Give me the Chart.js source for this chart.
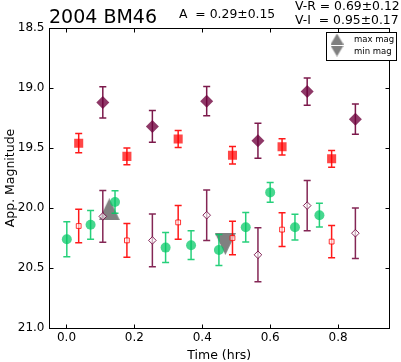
<!DOCTYPE html>
<html>
<head>
<meta charset="utf-8">
<script src="https://cdn.jsdelivr.net/npm/chart.js@4/dist/chart.umd.min.js"></script>
<style>
  html, body { margin: 0; padding: 0; background: #fff; }
  canvas { display: block; }
</style>
</head>
<body>
<canvas id="lc" width="401" height="362"></canvas>
<script>
// R band and R shifted to V
const timeR = [0.036, 0.178, 0.329, 0.489, 0.635, 0.781];
const magR = [19.46, 19.57, 19.425, 19.56, 19.49, 19.59];
const errR = [0.08, 0.07, 0.07, 0.073, 0.068, 0.07];
const magRtoV = [20.15, 20.27, 20.12, 20.25, 20.18, 20.28];
const errRtoV = [0.14, 0.14, 0.14, 0.14, 0.14, 0.135];

// I band and I shifted to V
const timeI = [0.107, 0.253, 0.413, 0.564, 0.709, 0.851];
const magI = [19.12, 19.32, 19.11, 19.44, 19.03, 19.26];
const errI = [0.13, 0.133, 0.122, 0.146, 0.113, 0.126];
const magItoV = [20.07, 20.27, 20.06, 20.39, 19.98, 20.21];
const errItoV = [0.215, 0.22, 0.21, 0.225, 0.21, 0.21];

// V band
const timeV = [0.001, 0.071, 0.143, 0.292, 0.367, 0.449, 0.528, 0.600, 0.673, 0.745];
const magV = [20.26, 20.14, 19.95, 20.33, 20.31, 20.35, 20.16, 19.87, 20.16, 20.06];
const errV = [0.146, 0.12, 0.094, 0.125, 0.12, 0.13, 0.123, 0.083, 0.107, 0.099];

// extremes of the fitted curve
const maxMagTime = [0.126];
const maxMag = [20.01];
const minMagTime = [0.468];
const minMag = [20.30];

const timeTicks = [0.0, 0.2, 0.4, 0.6, 0.8];
const magTicks = [18.5, 19.0, 19.5, 20.0, 20.5, 21.0];

const FONT = 'DejaVu Sans';
Chart.defaults.font.family = FONT;
Chart.defaults.font.size = 12;
Chart.defaults.color = '#000';

function pts(t, m) {
    return t.map((x, i) => ({ x: x, y: m[i] }));
}

// matplotlib style triangles (as wide as tall)
function triangle(up, w, h, color) {
    const c = document.createElement('canvas');
    c.width = w;
    c.height = h;
    const g = c.getContext('2d');
    g.fillStyle = color;
    g.beginPath();
    if (up) {
        g.moveTo(w / 2, 0); g.lineTo(w, h); g.lineTo(0, h);
    } else {
        g.moveTo(0, 0); g.lineTo(w, 0); g.lineTo(w / 2, h);
    }
    g.closePath();
    g.fill();
    return c;
}

const triColor = 'rgba(110,110,110,0.88)';
const upTri = triangle(true, 21, 22, triColor);
const downTri = triangle(false, 21, 22, triColor);

const errorBars = {
    id: 'errorBars',
    beforeDatasetDraw(chart, args) {
        const ds = chart.data.datasets[args.index];
        if (!ds.errors) return;
        const ctx = chart.ctx;
        const y = chart.scales.y;
        ctx.save();
        ctx.strokeStyle = ds.errorColor;
        ctx.lineWidth = 1.5;
        args.meta.data.forEach((pt, i) => {
            const v = ds.data[i].y;
            const e = ds.errors[i];
            const top = y.getPixelForValue(v - e);
            const bot = y.getPixelForValue(v + e);
            ctx.beginPath();
            ctx.moveTo(pt.x, top); ctx.lineTo(pt.x, bot);
            ctx.moveTo(pt.x - 3.5, top); ctx.lineTo(pt.x + 3.5, top);
            ctx.moveTo(pt.x - 3.5, bot); ctx.lineTo(pt.x + 3.5, bot);
            ctx.stroke();
        });
        ctx.restore();
    }
};

// full box with inward ticks, plus legend and header text
const frame = {
    id: 'frame',
    afterDatasetsDraw(chart) {
        const { ctx, chartArea: a, scales: { x, y } } = chart;
        const l = Math.floor(a.left) + 0.5, r = Math.floor(a.right) + 0.5;
        const t = Math.floor(a.top) + 0.5, b = Math.floor(a.bottom) + 0.5;
        ctx.save();
        ctx.strokeStyle = '#000';
        ctx.lineWidth = 1;
        ctx.beginPath();
        x.ticks.forEach(tk => {
            const px = Math.round(x.getPixelForValue(tk.value)) + 0.5;
            ctx.moveTo(px, b); ctx.lineTo(px, b - 4);
            ctx.moveTo(px, t); ctx.lineTo(px, t + 4);
        });
        y.ticks.forEach(tk => {
            const py = Math.round(y.getPixelForValue(tk.value)) + 0.5;
            ctx.moveTo(l, py); ctx.lineTo(l + 4, py);
            ctx.moveTo(r, py); ctx.lineTo(r - 4, py);
        });
        ctx.stroke();
        ctx.strokeRect(l, t, r - l, b - t);

        // legend
        ctx.fillStyle = '#fff';
        ctx.fillRect(326.5, 32.5, 70, 28);
        ctx.strokeRect(326.5, 32.5, 70, 28);
        ctx.drawImage(triangle(true, 13, 11, triColor), 330.5, 33.5);
        ctx.drawImage(triangle(false, 13, 11, triColor), 330.5, 45.5);
        ctx.fillStyle = '#000';
        ctx.font = '8.5px "' + FONT + '"';
        ctx.textBaseline = 'middle';
        ctx.fillText('max mag', 354, 39.5);
        ctx.fillText('min mag', 354, 52);
        ctx.restore();
    },
    afterDraw(chart) {
        const ctx = chart.ctx;
        ctx.save();
        ctx.fillStyle = '#000';
        ctx.textBaseline = 'alphabetic';
        ctx.font = '19px "' + FONT + '"';
        ctx.fillText('2004 BM46', 49, 22.5);
        ctx.font = '12.4px "' + FONT + '"';
        ctx.fillText('A  = 0.29\u00b10.15', 179, 17.5);
        ctx.fillText('V-R = 0.69\u00b10.12', 295, 9.5);
        ctx.fillText('V-I  = 0.95\u00b10.17', 295, 24);
        ctx.restore();
    }
};

new Chart(document.getElementById('lc'), {
    type: 'scatter',
    data: {
        datasets: [
            {
                data: pts(timeV, magV), errors: errV,
                errorColor: 'rgba(0,200,100,0.85)',
                pointStyle: 'circle', pointRadius: 5,
                backgroundColor: 'rgba(0,200,100,0.72)', borderWidth: 0
            },
            {
                data: pts(timeR, magR), errors: errR,
                errorColor: 'rgba(255,0,0,0.9)',
                pointStyle: 'rect', pointRadius: 6.4,
                backgroundColor: 'rgba(255,0,0,0.72)', borderWidth: 0
            },
            {
                data: pts(timeI, magI), errors: errI,
                errorColor: 'rgba(110,0,55,0.9)',
                pointStyle: 'rectRot', pointRadius: 6.5,
                backgroundColor: 'rgba(110,0,60,0.78)', borderWidth: 0
            },
            {
                data: pts(timeR, magRtoV), errors: errRtoV,
                errorColor: 'rgba(255,0,0,0.9)',
                pointStyle: 'rect', pointRadius: 3.4,
                backgroundColor: 'rgba(255,255,255,0.6)',
                borderColor: 'rgba(255,0,0,0.8)', borderWidth: 1
            },
            {
                data: pts(timeI, magItoV), errors: errItoV,
                errorColor: 'rgba(110,0,55,0.85)',
                pointStyle: 'rectRot', pointRadius: 3.8,
                backgroundColor: 'rgba(255,255,255,0.6)',
                borderColor: 'rgba(110,0,60,0.85)', borderWidth: 1
            },
            {
                data: pts(maxMagTime, maxMag),
                pointStyle: upTri, pointRadius: 11
            },
            {
                data: pts(minMagTime, minMag),
                pointStyle: downTri, pointRadius: 11
            }
        ]
    },
    options: {
        responsive: false,
        animation: false,
        events: [],
        layout: { padding: { top: 28, right: 2.5, left: 0, bottom: 0 } },
        plugins: {
            legend: { display: false },
            tooltip: { enabled: false }
        },
        scales: {
            x: {
                type: 'linear',
                min: -0.05,
                max: 0.95,
                afterBuildTicks: s => { s.ticks = timeTicks.map(v => ({ value: v })); },
                afterFit: s => { s.height = 34; },
                grid: { display: false, drawTicks: false },
                border: { display: false },
                ticks: { padding: 3, callback: v => v.toFixed(1) },
                title: {
                    display: true, text: 'Time (hrs)',
                    font: { size: 12.5 }, padding: { top: 0, bottom: -1.5 }
                }
            },
            y: {
                type: 'linear',
                reverse: true,
                min: 18.5,
                max: 21.0,
                afterBuildTicks: s => { s.ticks = magTicks.map(v => ({ value: v })); },
                afterFit: s => { s.width = 49.5; },
                grid: { display: false, drawTicks: false },
                border: { display: false },
                ticks: { padding: 5, callback: v => v.toFixed(1) },
                title: {
                    display: true, text: 'App. Magnitude',
                    font: { size: 12.5 }, padding: { top: 3, bottom: 0 }
                }
            }
        }
    },
    plugins: [errorBars, frame]
});
</script>
</body>
</html>
